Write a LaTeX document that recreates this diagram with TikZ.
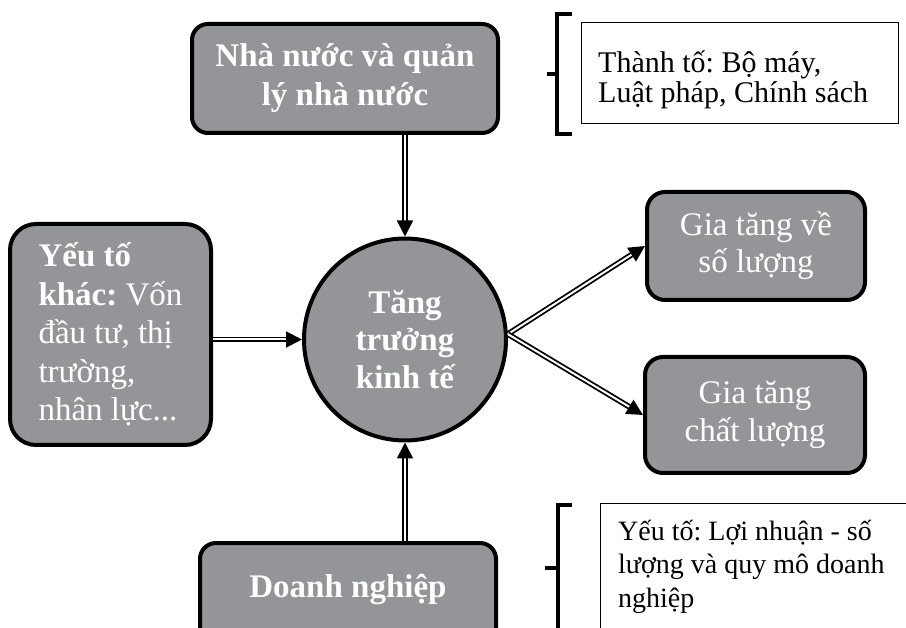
\documentclass[tikz,border=0pt]{standalone}
\usepackage{fontspec}
\setmainfont{Liberation Serif}
\usetikzlibrary{arrows.meta}
\definecolor{boxgray}{RGB}{147,149,152}
\frenchspacing
\begin{document}
\frenchspacing
\begin{tikzpicture}[x=1pt,y=-1pt,
 gbox/.style={draw=black, line width=4pt, fill=boxgray, rounded corners=16pt, text=white, align=center, inner sep=0pt},
 bigbold/.style={font=\fontsize{33}{39}\selectfont\bfseries},
 dbl/.style={draw=black, line width=1.8pt, double=white, double distance=2pt, -{Triangle[length=16pt,width=16pt]}},
 bracestroke/.style={line width=3.5pt},
 thinbox/.style={draw=black, line width=1.3pt, inner sep=0pt},
 note/.style={align=left, inner sep=0pt, anchor=base west}
]
\useasboundingbox (0,0) rectangle (906,628);
\clip (0,0) rectangle (906,628);

% main nodes
\node[gbox, bigbold, minimum width=306pt, minimum height=109pt] (state) at (345,78.5) {Nhà nước và quản\\lý nhà nước};
\node[circle, draw=black, line width=4pt, fill=boxgray, text=white, align=center, minimum size=202pt, inner sep=0pt, font=\fontsize{33}{37.5}\selectfont\bfseries] (growth) at (405,339.5) {Tăng\\trưởng\\kinh tế};
\node[gbox, font=\fontsize{33}{38.5}\selectfont, rounded corners=26pt, minimum width=201pt, minimum height=221pt, align=left] (other) at (110.5,334.5) {\textbf{Yếu tố}\\\textbf{khác:} Vốn\\đầu tư, thị\\trường,\\nhân lực...};
\node[gbox, font=\fontsize{33}{37}\selectfont, minimum width=218pt, minimum height=108pt, rounded corners=18pt] (qty) at (756,246) {Gia tăng về\\số lượng};
\node[gbox, font=\fontsize{33}{38}\selectfont, minimum width=220pt, minimum height=116pt, rounded corners=18pt] (qual) at (755,415) {Gia tăng\\chất lượng};
\node[gbox, bigbold, minimum width=296pt, minimum height=126pt, text height=22pt, text depth=40pt] (firm) at (348,606) {Doanh nghiệp};

% note boxes
\node[thinbox, minimum width=317pt, minimum height=101pt] (trbox) at (740,73) {};
\node[note, font=\fontsize{30}{30}\selectfont] (trtext) at (598,103) {Thành tố: Bộ máy,\\Luật pháp, Chính sách};
\node[thinbox, anchor=north west, minimum width=340pt, minimum height=160pt] (brbox) at (600,503) {};
\node[note, font=\fontsize{28}{33.5}\selectfont] (brtext) at (618,607) {Yếu tố: Lợi nhuận - số\\lượng và quy mô doanh\\nghiệp};

% brackets
\draw[bracestroke] (572,14) -- (557,14) -- (557,134) -- (572,134);
\draw[bracestroke] (547,74) -- (557,74);
\draw[bracestroke] (572,505) -- (558,505) -- (558,640);
\draw[bracestroke] (545,568) -- (558,568);

% connectors
\draw[dbl] (growth.north |- state.south) -- (growth.north);
\draw[dbl] (other.east |- growth.west) -- (growth.west);
\draw[dbl] (growth.south |- firm.north) -- (growth.south);
\draw[dbl] (growth.3) -- (qty.west);
\draw[dbl] (growth.3) -- (qual.west);
\end{tikzpicture}
\end{document}
